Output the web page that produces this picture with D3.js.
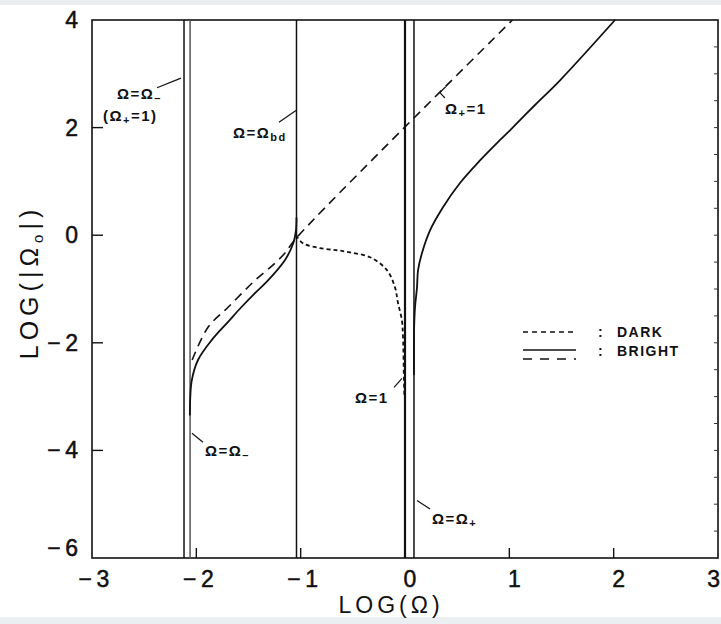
<!DOCTYPE html>
<html lang="en">
<head>
<meta charset="utf-8">
<title>LOG(|Ω0|) vs LOG(Ω)</title>
<style>
	body { margin: 0; background: #fff; }
	svg { display: block; font-family: "Liberation Sans", Arial, sans-serif; }
	.tick-label { font-size: 23px; fill: #111; stroke: #111; stroke-width: 0.5px; }
	.axis-title { font-size: 23px; fill: #111; letter-spacing: 4px; }
	.note { font-size: 15px; font-weight: bold; fill: #111; letter-spacing: 1.5px; }
	.legend { font-size: 14px; font-weight: bold; fill: #111; letter-spacing: 1.5px; }
</style>
</head>
<body>
<svg></svg>
<script src="https://cdnjs.cloudflare.com/ajax/libs/d3/7.8.5/d3.min.js"></script>
<script>
// axis ticks
var xTicks = [-3, -2, -1, 0, 1, 2, 3];
var yTicks = [4, 2, 0, -2, -4, -6];

// vertical resonance lines, LOG(Ω)
var verticalLines = [-2.118, -2.06, -1.04, 0.0, 0.086];

// bright branch, solid, left of Ω_bd  [LOG(Ω), LOG(|Ω0|)]
var brightSolidLeft = [
	[-2.062, -3.35], [-2.058, -3.01], [-2.044, -2.70], [-1.984, -2.32],
	[-1.853, -1.95], [-1.70, -1.62], [-1.565, -1.33], [-1.44, -1.08],
	[-1.313, -0.84], [-1.15, -0.46], [-1.071, -0.15], [-1.045, 0.09],
	[-1.04, 0.33]
];

// bright branch, dashed (Ω+ = 1 line)
var brightDashed = [
	[-2.04, -2.32], [-1.888, -1.71], [-1.696, -1.34], [-1.438, -0.84],
	[-1.246, -0.52], [-1.15, -0.33], [-1.045, -0.06], [1.03, 4.0]
];

// dark branch, dotted
var darkBranch = [
	[-1.045, 0.0], [-0.978, -0.15], [-0.815, -0.24], [-0.65, -0.28],
	[-0.527, -0.32], [-0.335, -0.41], [-0.173, -0.65], [-0.096, -0.97],
	[-0.067, -1.26], [-0.030, -1.58], [-0.019, -1.90], [-0.010, -2.70],
	[-0.006, -3.0]
];

// bright branch, solid, right of Ω+
var brightSolidRight = [
	[0.086, -2.6], [0.087, -1.77], [0.096, -1.34], [0.115, -0.97],
	[0.125, -0.65], [0.163, -0.33], [0.240, 0.09], [0.364, 0.52],
	[0.527, 0.97], [0.719, 1.39], [0.911, 1.77], [1.006, 1.95],
	[1.246, 2.42], [1.486, 2.88], [2.013, 4.0]
];

var width = 721, height = 624;
var svg = d3.select("svg").attr("width", width).attr("height", height);

var x = d3.scaleLinear().domain([-3, 3]).range([92, 718]);
var y = d3.scaleLinear().domain([-6, 4]).range([558, 20]);

// scan shading at the edges
svg.append("rect").attr("x", 0).attr("y", 0).attr("width", width).attr("height", 5).attr("fill", "#e9edf0");
svg.append("rect").attr("x", 0).attr("y", 617).attr("width", width).attr("height", 7).attr("fill", "#eceff1");

var line = d3.line()
	.x(function(d) { return x(d[0]); })
	.y(function(d) { return y(d[1]); })
	.curve(d3.curveCatmullRom.alpha(0.5));

// frame
svg.append("rect")
	.attr("x", x(-3)).attr("y", y(4))
	.attr("width", x(3) - x(-3)).attr("height", y(-6) - y(4))
	.attr("fill", "none").attr("stroke", "#111").attr("stroke-width", 1.6);

// major ticks
svg.append("g").selectAll("line")
	.data(yTicks.slice(1, -1))
	.enter().append("line")
	.attr("x1", x(-3)).attr("x2", x(-3) + 11)
	.attr("y1", function(d) { return y(d); }).attr("y2", function(d) { return y(d); })
	.attr("stroke", "#111").attr("stroke-width", 1.4);

svg.append("g").selectAll("line")
	.data(xTicks.slice(1, -1))
	.enter().append("line")
	.attr("x1", function(d) { return x(d); }).attr("x2", function(d) { return x(d); })
	.attr("y1", y(-6)).attr("y2", y(-6) - 10)
	.attr("stroke", "#111").attr("stroke-width", 1.4);

// minor ticks on right side
svg.append("g").selectAll("line")
	.data(d3.range(-5.5, 4, 0.5))
	.enter().append("line")
	.attr("x1", x(3)).attr("x2", x(3) - 4)
	.attr("y1", function(d) { return y(d); }).attr("y2", function(d) { return y(d); })
	.attr("stroke", "#333").attr("stroke-width", 1);

function fmt(d) { return d < 0 ? "\u2212\u2009" + Math.abs(d) : String(d); }

// tick labels
svg.append("g").selectAll("text")
	.data(yTicks)
	.enter().append("text")
	.attr("class", "tick-label")
	.attr("x", x(-3) - 14)
	.attr("y", function(d) { return d === -6 ? y(d) - 2 : y(d) + 8; })
	.attr("text-anchor", "end")
	.text(fmt);

svg.append("g").selectAll("text")
	.data(xTicks)
	.enter().append("text")
	.attr("class", "tick-label")
	.attr("x", function(d) { return d === 3 ? 720 : x(d) + (d < 0 ? 2 : 5); })
	.attr("y", y(-6) + 29)
	.attr("text-anchor", function(d) { return d === 3 ? "end" : "middle"; })
	.text(fmt);

// axis titles
svg.append("text")
	.attr("class", "axis-title")
	.attr("x", 391).attr("y", 613)
	.attr("text-anchor", "middle")
	.text("LOG(\u03A9)");

var yt = svg.append("text")
	.attr("class", "axis-title")
	.style("font-size", "25px")
	.style("letter-spacing", "5px")
	.attr("transform", "translate(38,282) rotate(-90)")
	.attr("text-anchor", "middle");
yt.append("tspan").text("LOG(|\u03A9");
yt.append("tspan").attr("dy", 5).attr("font-size", 15).text("o");
yt.append("tspan").attr("dy", -5).text("|)");

// vertical lines
svg.append("g").selectAll("line")
	.data(verticalLines)
	.enter().append("line")
	.attr("x1", function(d) { return x(d); }).attr("x2", function(d) { return x(d); })
	.attr("y1", y(4)).attr("y2", y(-6))
	.attr("stroke", function(d, i) { return i === 1 ? "#555" : "#111"; })
	.attr("stroke-width", function(d, i) { return i === 3 ? 2.2 : 1.5; });

// curves
svg.append("path").datum(brightSolidLeft)
	.attr("d", line).attr("fill", "none").attr("stroke", "#111").attr("stroke-width", 1.8);

svg.append("path").datum(brightDashed)
	.attr("d", line).attr("fill", "none").attr("stroke", "#111").attr("stroke-width", 1.6)
	.attr("stroke-dasharray", "9,6");

svg.append("path").datum(darkBranch)
	.attr("d", line).attr("fill", "none").attr("stroke", "#111").attr("stroke-width", 1.8)
	.attr("stroke-dasharray", "4,3");

svg.append("path").datum(brightSolidRight)
	.attr("d", line).attr("fill", "none").attr("stroke", "#111").attr("stroke-width", 1.8);

// annotations: parts are [string, sub?]
var notes = [
	{ parts: [["\u03A9=\u03A9"], ["\u2013", 1]], at: [-2.76, 2.54] },
	{ parts: [["(\u03A9"], ["+", 1], ["=1)"]], at: [-2.895, 2.12] },
	{ parts: [["\u03A9=\u03A9"], ["bd", 1]], at: [-1.649, 1.80] },
	{ parts: [["\u03A9"], ["+", 1], ["=1"]], at: [0.383, 2.25] },
	{ parts: [["\u03A9=\u03A9"], ["\u2013", 1]], at: [-1.917, -4.11] },
	{ parts: [["\u03A9=1"]], at: [-0.479, -3.12] },
	{ parts: [["\u03A9=\u03A9"], ["+", 1]], at: [0.259, -5.37] }
];

var leaders = [
	[[-2.377, 2.74], [-2.147, 2.92]],
	[[-1.208, 2.10], [-1.045, 2.32]],
	[[0.39, 2.76], [0.334, 2.65], [0.383, 2.55]],
	[[-2.042, -3.68], [-1.936, -3.85]],
	[[-0.105, -2.83], [-0.029, -2.66]],
	[[0.115, -4.93], [0.240, -5.09]]
];

notes.forEach(function(n) {
	var t = svg.append("text").attr("class", "note")
		.attr("x", x(n.at[0])).attr("y", y(n.at[1]));
	var shifted = false;
	n.parts.forEach(function(p) {
		var s = t.append("tspan").text(p[0]);
		if (p[1] && !shifted) { s.attr("dy", 3).attr("font-size", 11); shifted = true; }
		else if (!p[1] && shifted) { s.attr("dy", -3); shifted = false; }
	});
});

svg.append("g").selectAll("path")
	.data(leaders)
	.enter().append("path")
	.attr("d", d3.line().x(function(d) { return x(d[0]); }).y(function(d) { return y(d[1]); }))
	.attr("fill", "none").attr("stroke", "#111").attr("stroke-width", 1.2);

// legend
var lx0 = 523, lx1 = 574;
svg.append("line").attr("x1", lx0).attr("x2", lx1).attr("y1", 332).attr("y2", 332)
	.attr("stroke", "#111").attr("stroke-width", 1.4).attr("stroke-dasharray", "5,4");
svg.append("line").attr("x1", lx0).attr("x2", lx1 + 2).attr("y1", 350).attr("y2", 350)
	.attr("stroke", "#111").attr("stroke-width", 1.6);
svg.append("line").attr("x1", lx0).attr("x2", lx1 + 2).attr("y1", 359).attr("y2", 359)
	.attr("stroke", "#111").attr("stroke-width", 1.6).attr("stroke-dasharray", "9,8");
svg.append("text").attr("class", "legend").attr("x", 598).attr("y", 337).text(":");
svg.append("text").attr("class", "legend").attr("x", 617).attr("y", 337).text("DARK");
svg.append("text").attr("class", "legend").attr("x", 598).attr("y", 356).text(":");
svg.append("text").attr("class", "legend").attr("x", 617).attr("y", 356).text("BRIGHT");
</script>
</body>
</html>
